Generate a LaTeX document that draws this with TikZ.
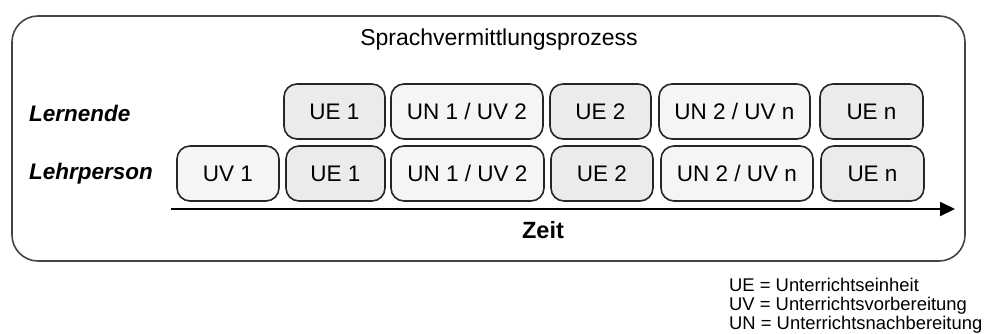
\documentclass[tikz,border=0pt]{standalone}
\usepackage{fontspec}
\setmainfont{Liberation Sans}
\usetikzlibrary{arrows.meta}
\definecolor{edge}{HTML}{262626}
\definecolor{frameline}{HTML}{444444}
\definecolor{unitfill}{HTML}{EBEBEB}
\definecolor{prepfill}{HTML}{F5F5F5}
\tikzset{
  phase/.style={draw=edge, line width=1.6pt, rounded corners=13pt,
    minimum height=55pt, inner sep=0pt, font=\fontsize{22.5}{26}\selectfont},
  unit/.style={phase, fill=unitfill},
  prep/.style={phase, fill=prepfill},
  rowlabel/.style={anchor=west, inner sep=0pt, font=\fontsize{22.5}{26}\selectfont\bfseries\itshape},
}
\begin{document}
\begin{tikzpicture}[x=1pt, y=-1pt]
\useasboundingbox (0,0) rectangle (995,333);
% outer frame
\draw[frameline, line width=1.6pt, rounded corners=26pt] (12,16) rectangle (965,261);
\node[inner sep=0pt, font=\fontsize{23}{26}\selectfont] (title) at (499,40) {Sprachvermittlungsprozess};
% row labels
\node[rowlabel] (lern) at (29,113) {Lernende};
\node[rowlabel] (lehr) at (29,174) {Lehrperson};
% learners
\node[unit, minimum width=101pt] (l1) at (334.5,111.5) {UE 1};
\node[prep, minimum width=152pt] (l2) at (467,111.5) {UN 1 / UV 2};
\node[unit, minimum width=101pt] (l3) at (600.5,111.5) {UE 2};
\node[prep, minimum width=151pt] (l4) at (734.5,111.5) {UN 2 / UV n};
\node[unit, minimum width=103pt] (l5) at (871.5,111.5) {UE n};
% teacher
\node[prep, minimum width=102pt] (t0) at (228,173.5) {UV 1};
\node[unit, minimum width=99pt] (t1) at (335.5,173.5) {UE 1};
\node[prep, minimum width=153pt] (t2) at (467.5,173.5) {UN 1 / UV 2};
\node[unit, minimum width=102pt] (t3) at (602,173.5) {UE 2};
\node[prep, minimum width=152pt] (t4) at (737,173.5) {UN 2 / UV n};
\node[unit, minimum width=103pt] (t5) at (872.5,173.5) {UE n};
% time axis
\coordinate (tstart) at (171,209);
\coordinate (tend) at (955,209);
\draw[line width=1.9pt, -{Triangle[length=15pt,width=14pt]}] (tstart) -- (tend);
\node[inner sep=0pt, font=\fontsize{23.5}{26}\selectfont\bfseries] (zeit) at (543,230) {Zeit};
% legend
\node[anchor=west, align=left, inner sep=0pt, font=\fontsize{18.4}{18.8}\selectfont] (legend) at (729,306)
  {UE = Unterrichtseinheit\\UV = Unterrichtsvorbereitung\\UN = Unterrichtsnachbereitung};
\end{tikzpicture}
\end{document}
